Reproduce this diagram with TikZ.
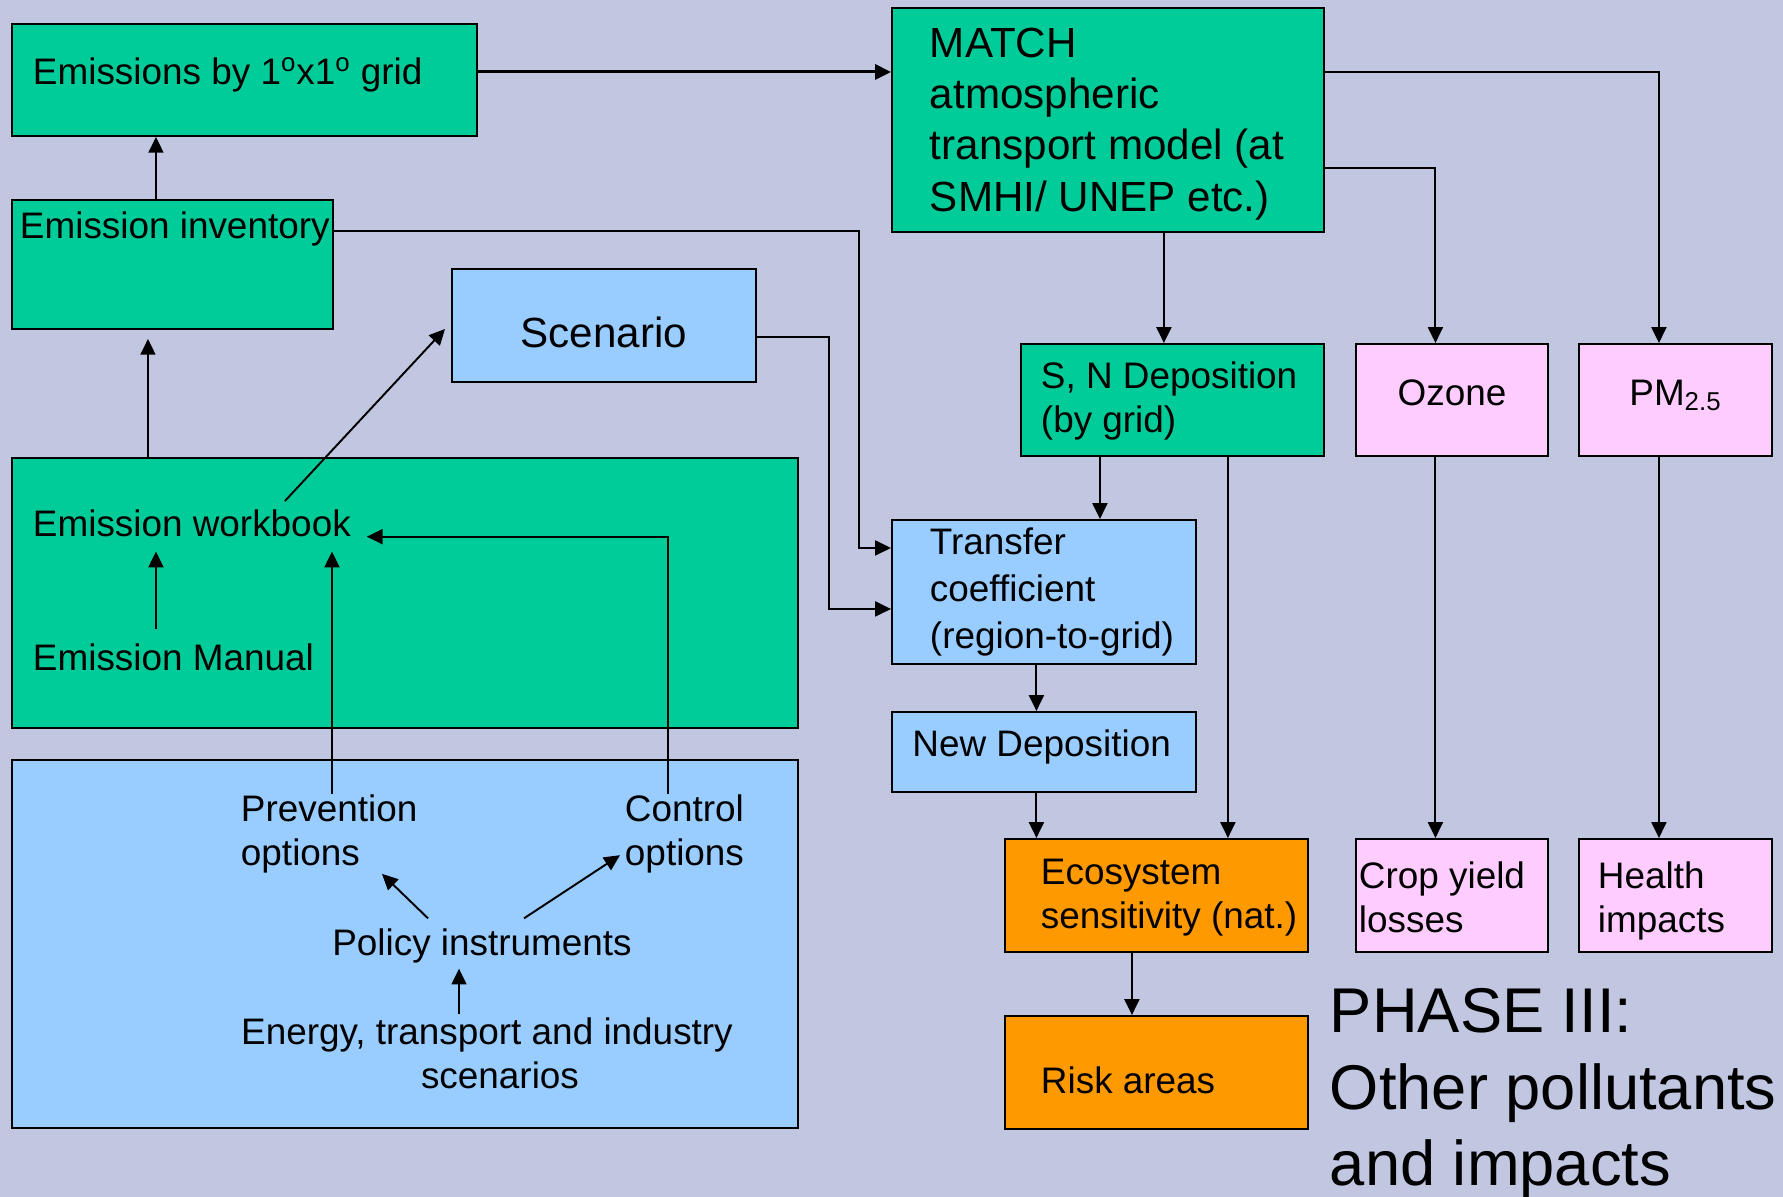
\documentclass[tikz,border=0pt]{standalone}
\usepackage{fontspec}
\setmainfont{Liberation Sans}
\usetikzlibrary{arrows.meta}

\definecolor{slidebg}{RGB}{194,199,225}
\definecolor{boxgreen}{RGB}{0,204,153}
\definecolor{boxblue}{RGB}{153,204,255}
\definecolor{boxpink}{RGB}{255,204,255}
\definecolor{boxorange}{RGB}{255,153,0}

\tikzset{
  box/.style={draw, line width=1.1pt, inner sep=0pt, anchor=north west},
  txt/.style={inner sep=0pt, anchor=west, align=left, font=\fontsize{21}{25}\selectfont},
  bigtxt/.style={txt, font=\fontsize{24}{29.1}\selectfont},
}

\begin{document}
\begin{tikzpicture}[x=0.02cm, y=-0.02cm, >={Triangle[length=9pt, width=8.5pt]}, line width=1.1pt]
                \path[fill=slidebg, use as bounding box] (0,0) rectangle (1783,1197);

                % boxes
                \node[box, fill=boxgreen, minimum width=9.30cm, minimum height=2.24cm] (grid) at (11,23) {};
                \node[box, fill=boxgreen, minimum width=6.42cm, minimum height=2.58cm] (inv) at (11,199) {};
                \node[box, fill=boxblue, minimum width=6.08cm, minimum height=2.26cm, text height=0.89cm, text depth=0cm, font=\fontsize{24}{29}\selectfont] (scen) at (451,268) {Scenario};
                \node[box, fill=boxgreen, minimum width=15.72cm, minimum height=5.40cm] (wb) at (11,457) {};
                \node[box, fill=boxblue, minimum width=15.72cm, minimum height=7.36cm] (policy) at (11,759) {};
                \node[box, fill=boxgreen, minimum width=8.64cm, minimum height=4.48cm] (match) at (891,7) {};
                \node[box, fill=boxgreen, minimum width=6.06cm, minimum height=2.24cm] (sn) at (1020,343) {};
                \node[box, fill=boxpink, minimum width=3.84cm, minimum height=2.24cm, text height=0.53cm, text depth=0.32cm, font=\fontsize{21}{25}\selectfont] (oz) at (1355,343) {Ozone};
                \node[box, fill=boxpink, minimum width=3.86cm, minimum height=2.24cm, text height=0.53cm, text depth=0.32cm, font=\fontsize{21}{25}\selectfont] (pm) at (1578,343) {PM\textsubscript{2.5}};
                \node[box, fill=boxblue, minimum width=6.08cm, minimum height=2.88cm] (tc) at (891,519) {};
                \node[box, fill=boxblue, minimum width=6.08cm, minimum height=1.60cm] (nd) at (891,711) {};
                \node[box, fill=boxorange, minimum width=6.06cm, minimum height=2.26cm] (eco) at (1004,838) {};
                \node[box, fill=boxpink, minimum width=3.84cm, minimum height=2.26cm] (crop) at (1355,838) {};
                \node[box, fill=boxpink, minimum width=3.86cm, minimum height=2.26cm] (health) at (1578,838) {};
                \node[box, fill=boxorange, minimum width=6.06cm, minimum height=2.26cm] (risk) at (1004,1015) {};

                % texts
                \node[txt] (gridtxt) at (32,75) {Emissions by 1\textsuperscript{o}x1\textsuperscript{o} grid};
                \node[txt] (invtxt) at (19,228.5) {Emission inventory};
                \node[txt] (wbtxt) at (32,523.5) {Emission workbook};
                \node[txt] (mantxt) at (32,657.5) {Emission Manual};
                \node[txt] (prevtxt) at (240,833.7) {Prevention\\options};
                \node[txt] (ctrltxt) at (624,833.7) {Control\\options};
                \node[txt, anchor=center] (poltxt) at (482,945.5) {Policy instruments};
                \node[txt, anchor=center, align=center] (enertxt) at (487,1053) {Energy, transport and industry\\\hspace*{0.52cm}scenarios};
                \node[bigtxt] (matchtxt) at (929,124) {MATCH\\atmospheric\\transport model (at\\SMHI/ UNEP etc.)};
                \node[txt] (sntxt) at (1040,401) {S, N Deposition\\(by grid)};
                \node[txt, font=\fontsize{21}{26.6}\selectfont] (tctxt) at (929,592) {Transfer\\coefficient\\(region-to-grid)};
                \node[txt] (ndtxt) at (911.5,747) {New Deposition};
                \node[txt] (ecotxt) at (1040,898) {Ecosystem\\sensitivity (nat.)};
                \node[txt] (croptxt) at (1358,897) {Crop yield\\losses};
                \node[txt] (healthtxt) at (1597,901) {Health\\impacts};
                \node[txt] (risktxt) at (1040,1080) {Risk areas};
                \node[txt, font=\fontsize{36}{43.6}\selectfont] (phasetxt) at (1329,1093.5) {PHASE III:\\Other pollutants\\and impacts};

                % left column
                \draw[->] ([xshift=2.9cm]inv.north west) -- ([xshift=2.9cm]inv.north west |- grid.south);
                \draw[->, line width=1.7pt] ([yshift=0.16cm]grid.east) -- ([yshift=0.16cm]grid.east -| match.west);
                \draw[->, shorten >=0.18cm] ([xshift=2.74cm]wb.north west) -- ([xshift=2.74cm]wb.north west |- inv.south);
                \draw[->] ([xshift=5.06cm, yshift=0.16cm]wbtxt.north west) -- ([xshift=-0.12cm, yshift=-0.07cm]scen.west);
                \draw[->] ([yshift=0.67cm]inv.east) -| ([xshift=-0.64cm, yshift=0.88cm]tc.west) -- ([yshift=0.88cm]tc.west);
                \draw[->] ([yshift=-0.23cm]scen.east) -| ([xshift=-1.24cm, yshift=-0.34cm]tc.west) -- ([yshift=-0.34cm]tc.west);

                \draw[->, shorten >=0.27cm] ([xshift=2.48cm, yshift=0.27cm]mantxt.north west) -- ([xshift=2.48cm]mantxt.north west |- wbtxt.south);
                \draw[->, shorten >=0.27cm] ([xshift=1.84cm]prevtxt.north west) -- ([xshift=1.84cm]prevtxt.north west |- wbtxt.south);
                \draw[->, shorten >=0.3cm] ([xshift=0.88cm]ctrltxt.north west) |- (wbtxt.base east);
                \draw[->] ([xshift=-1.08cm, yshift=0.18cm]poltxt.north) -- ([xshift=2.84cm]prevtxt.south west);
                \draw[->] ([xshift=0.84cm, yshift=0.18cm]poltxt.north) -- ([xshift=-0.08cm, yshift=-0.43cm]ctrltxt.west);
                \draw[->, shorten >=0.1cm] ([xshift=-0.56cm, yshift=0.06cm]enertxt.north) -- ([xshift=-0.56cm]enertxt.north |- poltxt.south);

                % right columns
                \draw[->] ([xshift=1.12cm]match.south) -- ([xshift=1.12cm]match.south |- sn.north);
                \draw[->] ([yshift=-0.96cm]match.east) -| ([xshift=-0.33cm]oz.north);
                \draw[->] ([yshift=0.96cm]match.east) -| ([xshift=-0.33cm]pm.north);
                \draw[->] ([xshift=-1.45cm]sn.south) -- ([xshift=-1.45cm]sn.south |- tc.north);
                \draw[->] ([xshift=1.11cm]sn.south) -- ([xshift=1.11cm]sn.south |- eco.north);
                \draw[->] ([xshift=-0.15cm]tc.south) -- ([xshift=-0.15cm]tc.south |- nd.north);
                \draw[->] ([xshift=-0.15cm]nd.south) -- ([xshift=-0.15cm]nd.south |- eco.north);
                \draw[->] ([xshift=-0.33cm]oz.south) -- ([xshift=-0.33cm]oz.south |- crop.north);
                \draw[->] ([xshift=-0.33cm]pm.south) -- ([xshift=-0.33cm]pm.south |- health.north);
                \draw[->] ([xshift=-0.49cm]eco.south) -- ([xshift=-0.49cm]eco.south |- risk.north);
\end{tikzpicture}
\end{document}
